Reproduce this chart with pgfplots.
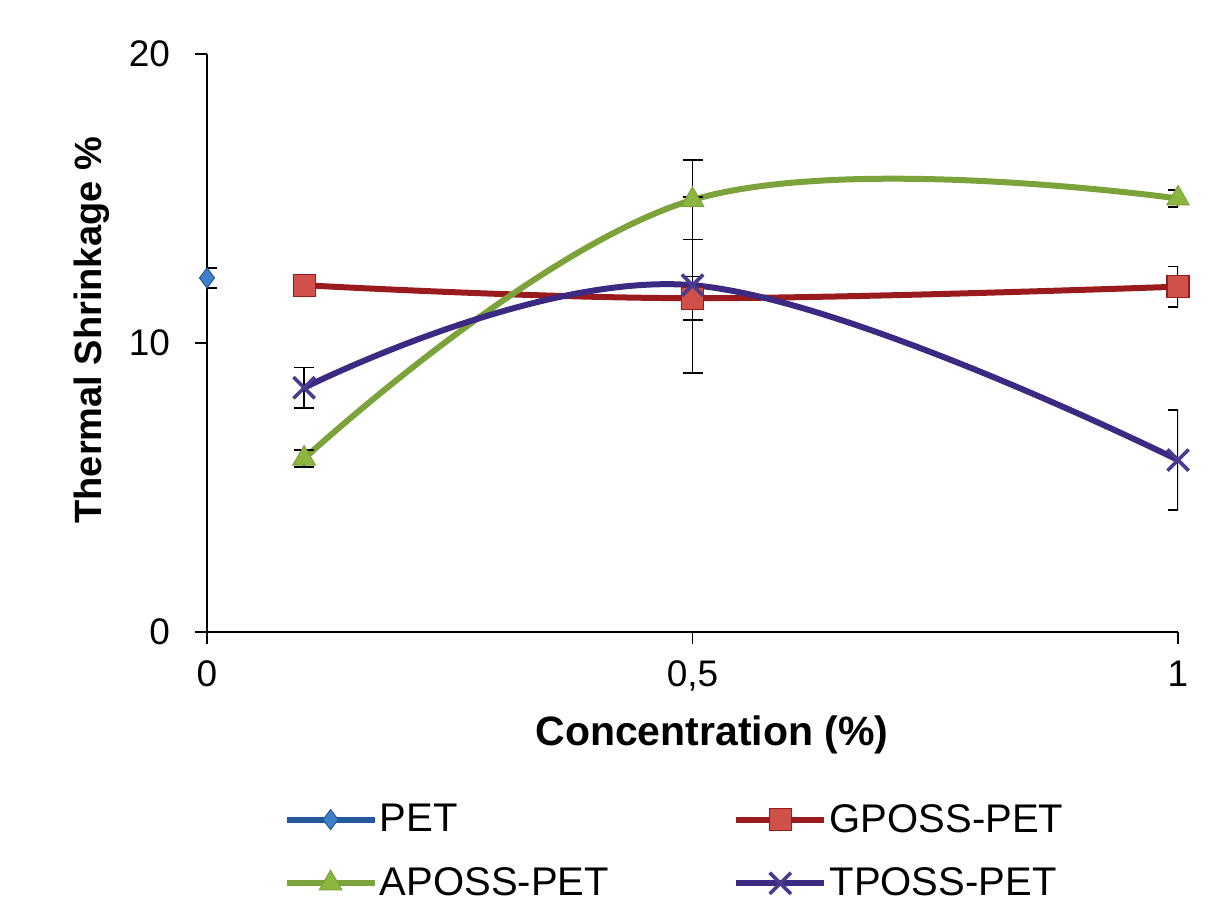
\documentclass[border=0pt]{standalone}
\usepackage{fontspec}
\setmainfont{Liberation Sans}
\usepackage{pgfplots}
\pgfplotsset{compat=1.18}
\definecolor{petline}{HTML}{24589C}
\definecolor{petmark}{HTML}{3F80C8}
\definecolor{gline}{HTML}{9A1B1E}
\definecolor{gmark}{HTML}{D0504A}
\definecolor{aline}{HTML}{7CA23A}
\definecolor{amark}{HTML}{8DB640}
\definecolor{tline}{HTML}{3C2A82}
\definecolor{tmark}{HTML}{4A3A90}
\begin{document}
\begin{tikzpicture}
\path (-103.5pt,-132.5pt) rectangle (503pt,316pt);
\begin{axis}[
  at={(0pt,0pt)}, anchor=south west,
  scale only axis, width=485.5pt, height=289pt,
  xmin=0, xmax=1, ymin=0, ymax=20,
  axis x line*=bottom, axis y line*=left,
  axis line style={line width=0.7pt, black},
  xtick={0,0.5,1}, ytick={0,10,20},
  tick align=outside, major tick length=6pt,
  tick style={line width=0.7pt, black},
  /pgf/number format/assume math mode=true,
  /pgf/number format/use comma,
  ticklabel style={font=\fontsize{18.5}{18.5}\selectfont},
  xticklabel style={yshift=-5pt},
  yticklabel style={xshift=-9pt},
  xlabel={\textbf{Concentration (\%)}},
  ylabel={\textbf{Thermal Shrinkage \%}},
  xlabel style={font=\fontsize{20.5}{20.5}\selectfont, at={(axis description cs:0.52,-0.178)}, anchor=center},
  ylabel style={font=\fontsize{19}{19}\selectfont, at={(axis description cs:-0.1184,0.522)}, anchor=center},
  legend style={at={(axis description cs:0.4815,-0.286)}, anchor=north, draw=none, fill=none,
    font=\fontsize{20}{20}\selectfont, row sep=14pt,
    /tikz/every even column/.append style={column sep=61pt},
    nodes={inner sep=1.2pt}},
  legend columns=2, legend cell align=left,
  legend image code/.code={\draw[mark repeat=2,mark phase=2] plot coordinates {(0pt,0pt) (22pt,0pt) (44pt,0pt)};},
  every axis plot/.append style={line width=3pt},
  error bars/y dir=both, error bars/y explicit,
  error bars/error mark=-,
  error bars/error bar style={black, line width=0.9pt, solid},
  error bars/error mark options={rotate=90, mark size=5pt, black, line width=0.9pt},
  smooth, tension=0.65,
]
\addplot[petline, mark=diamond*, mark size=5pt, mark options={fill=petmark, draw=petline, line width=0.5pt}]
  coordinates {(0,12.25) +- (0,0.35)};
\addlegendentry{PET}
\addplot[gline, mark=square*, mark size=5.5pt, mark options={fill=gmark, draw=gline, line width=0.6pt}]
  coordinates {(0.1,12.0) +- (0,0.2) (0.5,11.55) +- (0,0.75) (1,11.95) +- (0,0.7)};
\addlegendentry{GPOSS-PET}
\addplot[aline, mark=triangle*, mark size=6.5pt, mark options={fill=amark, draw=aline, line width=0.5pt}]
  coordinates {(0.1,6.0) +- (0,0.3) (0.5,14.95) +- (0,1.37) (1,15.0) +- (0,0.3)};
\addlegendentry{APOSS-PET}
\addplot[tline, mark=x, mark size=7.5pt, mark options={draw=tmark, line width=1.8pt}]
  coordinates {(0.1,8.45) +- (0,0.7) (0.5,12.0) +- (0,3.05) (1,5.95) +- (0,1.73)};
\addlegendentry{TPOSS-PET}
\end{axis}
\end{tikzpicture}
\end{document}
